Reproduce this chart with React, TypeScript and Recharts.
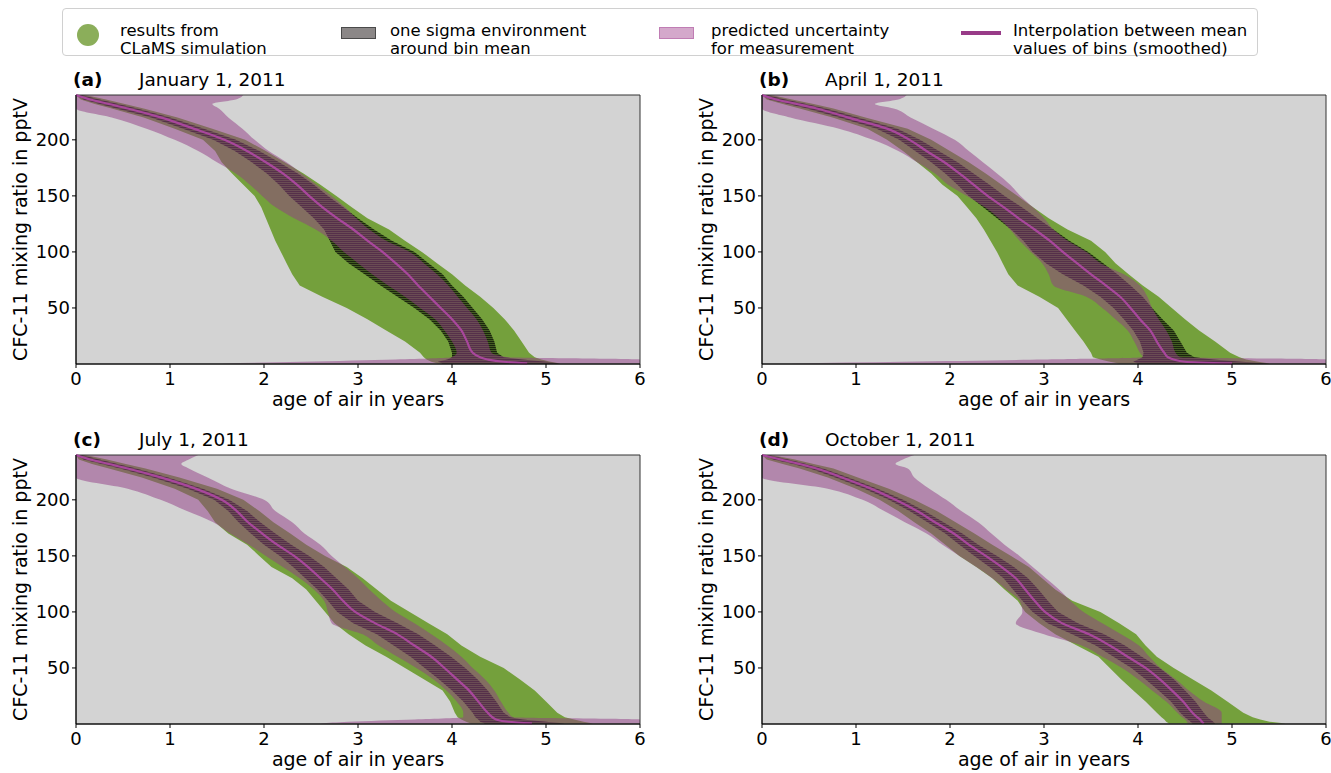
import React from 'react';
import { ComposedChart, Area, Line, XAxis, YAxis, CartesianGrid, ReferenceArea } from 'recharts';

// mixing ratio levels (pptV) at which the band edges were read
const LEVELS = [240, 236, 232, 228, 220, 210, 200, 190, 180, 170, 160, 150, 140, 130, 120, 110, 100, 90, 80, 70, 60, 50, 40, 30, 20, 10, 6, 4, 2, 0.5];
const X_TICKS = [0, 1, 2, 3, 4, 5, 6];
const Y_TICKS = [50, 100, 150, 200];

// (a) January 1, 2011 -- ages in years
const A_MEAN = [0, 0.15, 0.35, 0.55, 0.9, 1.25, 1.58, 1.82, 2.02, 2.2, 2.35, 2.48, 2.62, 2.78, 2.95, 3.1, 3.26, 3.4, 3.53, 3.64, 3.76, 3.88, 4.0, 4.1, 4.16, 4.22, 4.3, 4.38, 4.55, 4.8];
const A_SIG_LO = [0, 0.08, 0.25, 0.43, 0.8, 1.14, 1.46, 1.69, 1.87, 2.03, 2.16, 2.27, 2.4, 2.53, 2.64, 2.7, 2.76, 2.9, 3.07, 3.24, 3.42, 3.6, 3.76, 3.88, 3.96, 4.0, 4.0, 3.95, 3.85, 3.9];
const A_SIG_HI = [0.06, 0.25, 0.45, 0.65, 1.0, 1.36, 1.7, 1.95, 2.16, 2.36, 2.53, 2.68, 2.84, 3.0, 3.17, 3.36, 3.6, 3.75, 3.9, 4.0, 4.12, 4.22, 4.32, 4.4, 4.45, 4.48, 4.55, 4.75, 5.0, 5.15];
const A_SIM_LO = [0, 0.05, 0.2, 0.38, 0.72, 1.05, 1.35, 1.48, 1.55, 1.66, 1.78, 1.9, 1.97, 2.02, 2.07, 2.12, 2.18, 2.24, 2.3, 2.38, 2.62, 2.88, 3.1, 3.3, 3.5, 3.66, 3.7, 3.73, 3.78, 3.85];
const A_SIM_HI = [0.1, 0.32, 0.52, 0.72, 1.08, 1.45, 1.8, 2.02, 2.22, 2.42, 2.6, 2.77, 2.93, 3.1, 3.33, 3.5, 3.68, 3.84, 4.0, 4.14, 4.3, 4.44, 4.56, 4.66, 4.74, 4.82, 4.88, 4.95, 5.05, 5.15];
const A_UNC_LO = [0, 0, 0, 0, 0.38, 0.75, 1.05, 1.3, 1.5, 1.7, 1.85, 1.98, 2.12, 2.32, 2.55, 2.72, 2.85, 3.0, 3.15, 3.32, 3.5, 3.66, 3.82, 3.92, 4.0, 4.05, 4.0, 3.4, 2.4, 1.55];
const A_UNC_HI = [1.78, 1.7, 1.45, 1.52, 1.62, 1.77, 1.9, 2.05, 2.24, 2.4, 2.56, 2.72, 2.86, 2.98, 3.12, 3.3, 3.55, 3.7, 3.84, 3.96, 4.06, 4.16, 4.26, 4.33, 4.38, 4.42, 4.6, 6, 6, 6];

// (b) April 1, 2011
const B_MEAN = [0, 0.15, 0.37, 0.58, 0.91, 1.33, 1.57, 1.75, 1.94, 2.1, 2.25, 2.4, 2.57, 2.73, 2.9, 3.06, 3.2, 3.35, 3.5, 3.66, 3.81, 3.92, 4.02, 4.13, 4.2, 4.28, 4.32, 4.38, 4.5, 5.0];
const B_SIG_LO = [0, 0.08, 0.28, 0.48, 0.82, 1.22, 1.46, 1.63, 1.8, 1.95, 2.08, 2.2, 2.35, 2.5, 2.65, 2.78, 2.88, 3.02, 3.2, 3.42, 3.6, 3.74, 3.85, 3.95, 4.02, 4.06, 4.05, 4.0, 3.95, 4.0];
const B_SIG_HI = [0.06, 0.25, 0.47, 0.68, 1.02, 1.44, 1.68, 1.88, 2.08, 2.25, 2.42, 2.58, 2.76, 2.93, 3.1, 3.27, 3.47, 3.63, 3.78, 3.92, 4.05, 4.15, 4.26, 4.38, 4.45, 4.52, 4.6, 4.8, 5.1, 5.4];
const B_SIM_LO = [0, 0.05, 0.22, 0.4, 0.75, 1.12, 1.33, 1.5, 1.65, 1.8, 1.92, 2.08, 2.18, 2.28, 2.36, 2.43, 2.5, 2.56, 2.62, 2.72, 2.95, 3.15, 3.24, 3.33, 3.42, 3.5, 3.52, 3.6, 3.7, 3.8];
const B_SIM_HI = [0.1, 0.32, 0.55, 0.76, 1.1, 1.55, 1.8, 2.0, 2.2, 2.38, 2.55, 2.72, 2.88, 3.05, 3.25, 3.5, 3.65, 3.76, 3.9, 4.05, 4.22, 4.36, 4.5, 4.65, 4.82, 4.98, 5.08, 5.15, 5.28, 5.4];
const B_UNC_LO = [0, 0, 0, 0, 0.3, 0.82, 1.18, 1.45, 1.65, 1.84, 1.98, 2.18, 2.37, 2.52, 2.64, 2.74, 2.86, 2.98, 3.05, 3.1, 3.45, 3.62, 3.76, 3.89, 3.96, 4.02, 4.05, 3.0, 1.5, 0.3];
const B_UNC_HI = [1.54, 1.45, 1.2, 1.4, 1.58, 1.82, 2.05, 2.2, 2.35, 2.5, 2.64, 2.75, 2.88, 3.0, 3.1, 3.25, 3.45, 3.6, 3.85, 4.02, 4.1, 4.15, 4.22, 4.3, 4.36, 4.4, 4.45, 6, 6, 6];

// (c) July 1, 2011
const C_MEAN = [0, 0.15, 0.35, 0.55, 0.9, 1.27, 1.55, 1.71, 1.83, 1.98, 2.14, 2.32, 2.47, 2.6, 2.73, 2.84, 2.97, 3.18, 3.42, 3.6, 3.78, 3.92, 4.05, 4.18, 4.28, 4.38, 4.43, 4.47, 4.6, 4.85];
const C_SIG_LO = [0, 0.08, 0.27, 0.47, 0.82, 1.19, 1.47, 1.62, 1.73, 1.86, 2.0, 2.17, 2.31, 2.44, 2.57, 2.68, 2.78, 2.95, 3.2, 3.38, 3.56, 3.71, 3.86, 4.0, 4.12, 4.22, 4.25, 4.28, 4.3, 4.35];
const C_SIG_HI = [0.06, 0.25, 0.44, 0.64, 0.98, 1.35, 1.63, 1.82, 1.96, 2.12, 2.29, 2.48, 2.64, 2.77, 2.9, 3.0, 3.18, 3.42, 3.64, 3.82, 3.99, 4.14, 4.27, 4.38, 4.47, 4.55, 4.62, 4.75, 5.0, 5.2];
const C_SIM_LO = [0, 0.03, 0.17, 0.35, 0.7, 1.05, 1.3, 1.4, 1.48, 1.62, 1.82, 1.95, 2.08, 2.3, 2.45, 2.55, 2.65, 2.75, 2.9, 3.08, 3.3, 3.5, 3.7, 3.9, 3.98, 4.03, 4.06, 4.1, 4.15, 4.2];
const C_SIM_HI = [0.1, 0.33, 0.53, 0.74, 1.1, 1.5, 1.78, 1.95, 2.1, 2.28, 2.45, 2.65, 2.88, 3.05, 3.2, 3.35, 3.55, 3.75, 3.95, 4.1, 4.3, 4.55, 4.72, 4.88, 5.0, 5.12, 5.2, 5.3, 5.4, 5.5];
const C_UNC_LO = [0, 0, 0, 0, 0, 0.55, 0.9, 1.18, 1.46, 1.64, 1.84, 2.02, 2.2, 2.38, 2.53, 2.64, 2.68, 2.72, 3.05, 3.22, 3.42, 3.62, 3.8, 3.94, 4.05, 4.12, 4.12, 3.6, 2.9, 2.6];
const C_UNC_HI = [1.3, 1.2, 1.12, 1.2, 1.4, 1.65, 2.0, 2.12, 2.3, 2.43, 2.6, 2.72, 2.86, 3.0, 3.12, 3.25, 3.4, 3.6, 3.78, 3.95, 4.1, 4.22, 4.35, 4.45, 4.52, 4.6, 4.65, 6, 6, 6];

// (d) October 1, 2011
const D_MEAN = [0, 0.2, 0.4, 0.58, 0.85, 1.16, 1.42, 1.65, 1.84, 2.04, 2.2, 2.38, 2.55, 2.7, 2.8, 2.9, 3.01, 3.19, 3.48, 3.7, 3.89, 4.08, 4.23, 4.36, 4.48, 4.58, 4.63, 4.66, 4.68, 4.7];
const D_SIG_LO = [0, 0.12, 0.33, 0.51, 0.78, 1.09, 1.35, 1.57, 1.76, 1.95, 2.1, 2.26, 2.42, 2.57, 2.67, 2.77, 2.88, 3.04, 3.3, 3.55, 3.74, 3.93, 4.08, 4.22, 4.35, 4.45, 4.5, 4.53, 4.56, 4.58];
const D_SIG_HI = [0.06, 0.28, 0.47, 0.65, 0.92, 1.23, 1.5, 1.73, 1.93, 2.13, 2.3, 2.5, 2.68, 2.83, 2.94, 3.04, 3.15, 3.36, 3.64, 3.86, 4.04, 4.23, 4.38, 4.5, 4.61, 4.7, 4.74, 4.77, 4.8, 4.82];
const D_SIM_LO = [0, 0.05, 0.22, 0.4, 0.7, 1.0, 1.25, 1.45, 1.62, 1.8, 1.95, 2.1, 2.28, 2.45, 2.58, 2.72, 2.8, 2.95, 3.12, 3.35, 3.58, 3.7, 3.82, 3.95, 4.08, 4.2, 4.25, 4.28, 4.3, 4.33];
const D_SIM_HI = [0.1, 0.35, 0.55, 0.76, 1.02, 1.35, 1.62, 1.86, 2.06, 2.26, 2.45, 2.65, 2.84, 2.98, 3.12, 3.3, 3.6, 3.8, 3.98, 4.08, 4.2, 4.38, 4.58, 4.78, 4.95, 5.12, 5.22, 5.3, 5.4, 5.57];
const D_UNC_LO = [0, 0, 0, 0, 0, 0.7, 1.07, 1.3, 1.52, 1.75, 1.92, 2.1, 2.28, 2.45, 2.6, 2.74, 2.77, 2.7, 3.0, 3.4, 3.62, 3.83, 4.0, 4.15, 4.3, 4.42, 4.47, 4.5, 4.52, 4.53];
const D_UNC_HI = [1.62, 1.5, 1.42, 1.55, 1.62, 1.78, 1.96, 2.12, 2.3, 2.44, 2.58, 2.74, 2.88, 3.02, 3.16, 3.28, 3.42, 3.62, 3.82, 4.01, 4.12, 4.24, 4.4, 4.54, 4.7, 4.89, 4.89, 4.89, 4.89, 4.89];

const FONT = '"DejaVu Sans", sans-serif';
const GREEN = '#74a03c';
const PURPLE = '#923c85';
const MAGENTA = '#a8479c';

const buildRows = (mean: number[], simLo: number[], simHi: number[], sigLo: number[], sigHi: number[], uncLo: number[], uncHi: number[]) =>
  LEVELS.map((y, i) => ({
    y,
    mean: mean[i],
    sim: [simLo[i], simHi[i]],
    sig: [sigLo[i], sigHi[i]],
    unc: [uncLo[i], uncHi[i]],
  }));

const panels = [
  { id: 'a', date: 'January 1, 2011', left: 0, top: 84.5, rows: buildRows(A_MEAN, A_SIM_LO, A_SIM_HI, A_SIG_LO, A_SIG_HI, A_UNC_LO, A_UNC_HI) },
  { id: 'b', date: 'April 1, 2011', left: 686, top: 84.5, rows: buildRows(B_MEAN, B_SIM_LO, B_SIM_HI, B_SIG_LO, B_SIG_HI, B_UNC_LO, B_UNC_HI) },
  { id: 'c', date: 'July 1, 2011', left: 0, top: 444.5, rows: buildRows(C_MEAN, C_SIM_LO, C_SIM_HI, C_SIG_LO, C_SIG_HI, C_UNC_LO, C_UNC_HI) },
  { id: 'd', date: 'October 1, 2011', left: 686, top: 444.5, rows: buildRows(D_MEAN, D_SIM_LO, D_SIM_HI, D_SIG_LO, D_SIG_HI, D_UNC_LO, D_UNC_HI) },
];

const tickStyle = { fontSize: 18, fill: '#000', fontFamily: FONT };

const Panel = ({ id, date, left, top, rows }: any) => (
  <div style={{ position: 'absolute', left, top }}>
    <div style={{ position: 'absolute', left: 73, top: -13.5, fontSize: 18.5, lineHeight: '18.5px', whiteSpace: 'nowrap' }}>
      <span style={{ fontWeight: 'bold' }}>({id})</span>
      <span style={{ position: 'absolute', left: 66 }}>{date}</span>
    </div>
    <ComposedChart
      layout="vertical"
      width={664}
      height={330}
      data={rows}
      margin={{ top: 10, right: 24, bottom: 6, left: 10 }}
    >
      <defs>
        <pattern id={`hatch-${id}`} width="8" height="2" patternUnits="userSpaceOnUse">
          <rect width="8" height="1" fill="#000" fillOpacity={0.6} />
        </pattern>
      </defs>
      <CartesianGrid fill="#d3d3d3" horizontal={false} vertical={false} />
      <XAxis
        type="number"
        domain={[0, 6]}
        ticks={X_TICKS}
        height={45}
        tick={tickStyle}
        tickSize={4}
        tickMargin={4}
        stroke="#000"
        label={{ value: 'age of air in years', position: 'insideBottom', offset: 3, fill: '#000', fontSize: 19, fontFamily: FONT }}
      />
      <YAxis
        type="number"
        dataKey="y"
        domain={[0, 240]}
        reversed
        ticks={Y_TICKS}
        width={66}
        tick={tickStyle}
        tickSize={4}
        tickMargin={2}
        stroke="#000"
        label={{ value: 'CFC-11 mixing ratio in pptV', angle: -90, position: 'insideLeft', offset: 10, fill: '#000', fontSize: 19, fontFamily: FONT, style: { textAnchor: 'middle' } }}
      />
      <Area dataKey="sim" type="linear" fill={GREEN} fillOpacity={1} stroke="none" isAnimationActive={false} />
      <Area dataKey="sig" type="linear" fill="#000" fillOpacity={0.42} stroke="none" isAnimationActive={false} />
      <Area dataKey={(r: any) => r.sig} type="linear" fill={`url(#hatch-${id})`} fillOpacity={1} stroke="none" isAnimationActive={false} />
      <Area dataKey="unc" type="monotone" fill={PURPLE} fillOpacity={0.5} stroke="none" isAnimationActive={false} />
      <Line dataKey="mean" type="monotone" stroke={MAGENTA} strokeWidth={2.2} dot={false} isAnimationActive={false} />
      <ReferenceArea x1={0} x2={6} y1={0} y2={240} fill="none" stroke="#333" strokeWidth={1} ifOverflow="visible" />
    </ComposedChart>
  </div>
);

const legendText = { position: 'absolute' as const, top: 13, fontSize: 16.5, lineHeight: '18px', whiteSpace: 'pre' as const };

const Legend = () => (
  <div style={{ position: 'absolute', left: 62, top: 8, width: 1196, height: 48, border: '1px solid #d0d0d0', borderRadius: 4, boxSizing: 'border-box' }}>
    <div style={{ position: 'absolute', left: 14, top: 14.5, width: 22, height: 22, borderRadius: '50%', background: '#8bae5a' }} />
    <div style={{ ...legendText, left: 57 }}>{'results from\nCLaMS simulation'}</div>
    <div style={{ position: 'absolute', left: 278, top: 18, width: 35, height: 12, background: '#8b8787', border: '1.5px solid #4a4a4a', boxSizing: 'border-box' }} />
    <div style={{ ...legendText, left: 327 }}>{'one sigma environment\naround bin mean'}</div>
    <div style={{ position: 'absolute', left: 596, top: 18, width: 35, height: 12, background: '#d4a8cb', border: '1.5px solid #c07db4', boxSizing: 'border-box' }} />
    <div style={{ ...legendText, left: 648 }}>{'predicted uncertainty\nfor measurement'}</div>
    <div style={{ position: 'absolute', left: 898, top: 22, width: 40, height: 4, background: '#983b88' }} />
    <div style={{ ...legendText, left: 950 }}>{'Interpolation between mean\nvalues of bins (smoothed)'}</div>
  </div>
);

export default function App() {
  return (
    <div style={{ position: 'absolute', left: 0, top: 0, width: 1331, height: 773, background: '#fff', fontFamily: FONT, color: '#000' }}>
      <Legend />
      {panels.map((p) => (
        <Panel key={p.id} {...p} />
      ))}
    </div>
  );
}
